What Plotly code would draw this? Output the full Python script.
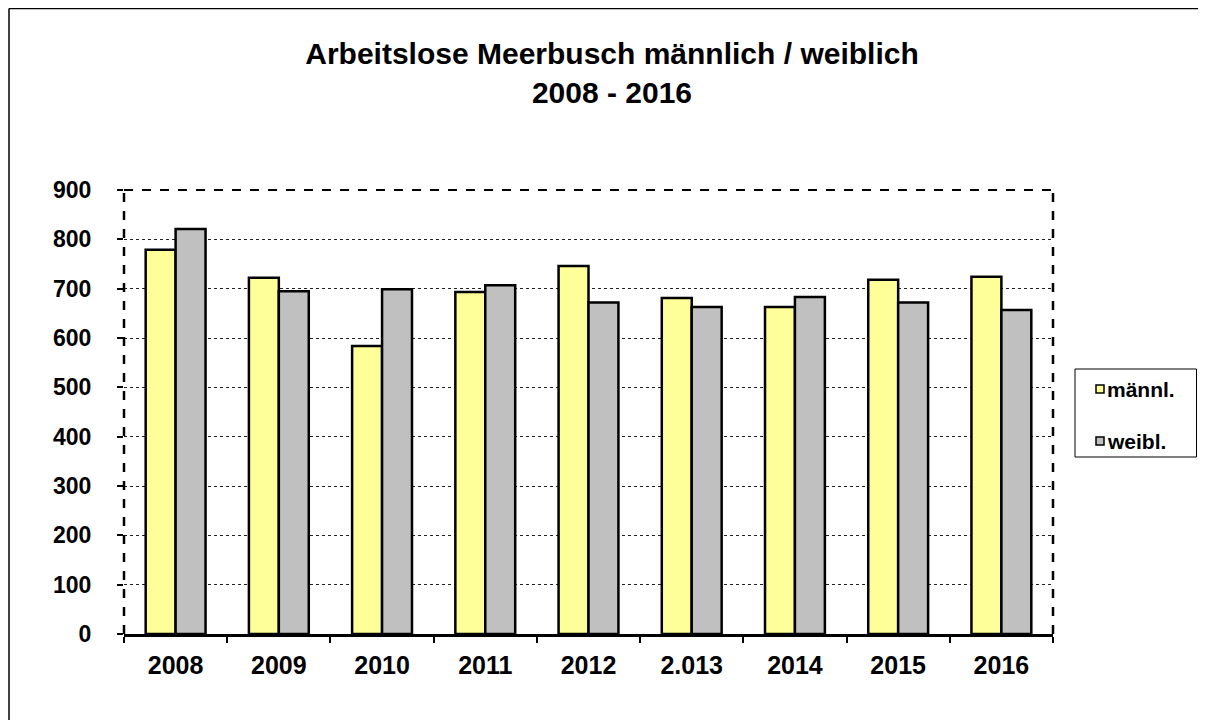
import plotly.graph_objects as go

years = ["2008", "2009", "2010", "2011", "2012", "2.013", "2014", "2015", "2016"]
maennl = [779, 722, 584, 693, 746, 681, 663, 718, 724]
weibl = [821, 695, 699, 707, 672, 663, 683, 672, 657]
y_ticks = [0, 100, 200, 300, 400, 500, 600, 700, 800, 900]
series_names = ["männl.", "weibl."]
series_colors = ["#FFFF99", "#C0C0C0"]

OFF = 8  # page body margin
W, H = 1206 - OFF, 720 - OFF
# target plot area in page pixels
PX0, PX1, PY0, PY1 = 124, 1053, 190, 634
L, T = PX0 - OFF, PY0 - OFF
R = W - (PX1 - OFF)
B = H - (PY1 - OFF)
pw, ph = PX1 - PX0, PY1 - PY0

def px(x):
    return (x - PX0) / pw

def py(y):
    return (PY1 - y) / ph

font_family = "Liberation Sans, Arial, sans-serif"

fig = go.Figure()
for name, vals, col in zip(series_names, [maennl, weibl], series_colors):
    fig.add_trace(go.Bar(x=years, y=vals, name=name, showlegend=False,
                         marker=dict(color=col, line=dict(color="black", width=2.5))))

fig.update_layout(
    width=W, height=H,
    margin=dict(l=L, r=R, t=T, b=B),
    paper_bgcolor="white", plot_bgcolor="white",
    barmode="group", bargap=0.42, bargroupgap=0,
    font=dict(family=font_family, color="black"),
    title=dict(text="<b>Arbeitslose Meerbusch männlich / weiblich<br>2008 - 2016</b>",
               x=px(612), xref="paper", xanchor="center", y=1 - 56 / H, yanchor="top",
               font=dict(size=30, family=font_family)),
    showlegend=False,
)

fig.update_xaxes(type="category", showgrid=False, ticks="outside", ticklen=6,
                 tickson="boundaries", tickcolor="black", tickwidth=2,
                 showline=True, linecolor="black", linewidth=2.5,
                 tickfont=dict(size=25, family=font_family, weight="bold"),
                 ticklabelstandoff=7)
fig.update_yaxes(range=[0, 900], tickvals=y_ticks, ticks="outside", ticklen=6,
                 tickcolor="black", tickwidth=2,
                 showgrid=True, gridcolor="#222", gridwidth=1, griddash="dot",
                 showline=False, zeroline=False,
                 tickfont=dict(size=23, family=font_family, weight="bold"),
                 ticklabelstandoff=21)

# dashed plot-area frame (top, left, right)
fig.add_shape(type="line", xref="paper", yref="paper", x0=0, x1=1, y0=1, y1=1,
              line=dict(color="black", width=2, dash="dash"))
fig.add_shape(type="line", xref="paper", yref="paper", x0=0, x1=0, y0=0, y1=1,
              line=dict(color="black", width=2.5, dash="dash"))
fig.add_shape(type="line", xref="paper", yref="paper", x0=1, x1=1, y0=0, y1=1,
              line=dict(color="black", width=2.5, dash="dash"))

# outer chart border (top and left visible)
fig.add_shape(type="line", xref="paper", yref="paper", x0=px(9), x1=px(1220), y0=py(8.5), y1=py(8.5),
              line=dict(color="black", width=1.5))
fig.add_shape(type="line", xref="paper", yref="paper", x0=px(9), x1=px(9), y0=py(8.5), y1=py(740),
              line=dict(color="black", width=1.5))

# legend box
fig.add_shape(type="rect", xref="paper", yref="paper", x0=px(1075), x1=px(1196.5),
              y0=py(457), y1=py(369), line=dict(color="black", width=1), fillcolor="white")
leg_y = [389, 441]
for name, col, yy in zip(series_names, series_colors, leg_y):
    fig.add_shape(type="rect", xref="paper", yref="paper", x0=px(1096), x1=px(1104),
                  y0=py(yy + 4), y1=py(yy - 4), line=dict(color="black", width=1.5),
                  fillcolor=col)
    fig.add_annotation(x=px(1105), y=py(yy), xref="paper", yref="paper",
                       text="<b>" + name + "</b>", showarrow=False, xanchor="left",
                       yanchor="middle", font=dict(size=21, family=font_family))

fig.write_html("out.html")
